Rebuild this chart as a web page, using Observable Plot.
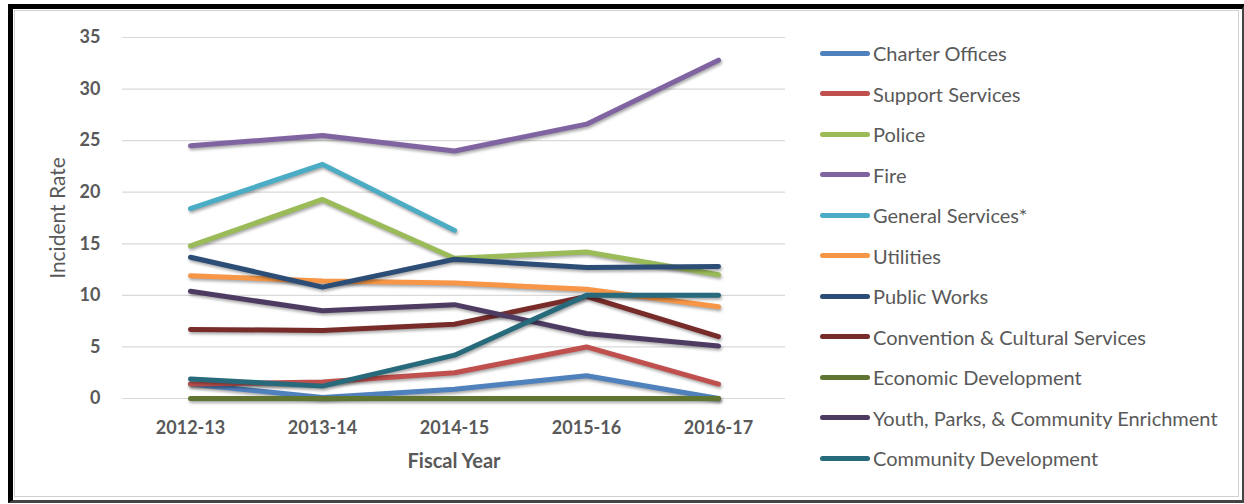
<!DOCTYPE html>
<html>
<head>
<meta charset="utf-8">
<script src="https://cdn.jsdelivr.net/npm/d3@7"></script>
<script src="https://cdn.jsdelivr.net/npm/@observablehq/plot@0.6"></script>
<style>
  html, body { margin: 0; padding: 0; background: #fff; }
  body { width: 1244px; height: 504px; position: relative; overflow: hidden; font-family: Lato, "Open Sans", sans-serif; }
  #frame { position: absolute; left: 8px; top: 4px; width: 1229px; height: 491px;
           border-left: 5px solid #000; border-top: 5px solid #000;
           border-right: 3px solid #444; border-bottom: 3px solid #444; box-sizing: content-box; }
  #inner { position: absolute; left: 14px; top: 10px; width: 1225px; height: 487px; border: 1px solid #d0d0d0; box-sizing: border-box; }
  #chart { position: absolute; left: 0; top: 0; }
  #chart g[aria-label="line"] path { filter: drop-shadow(1px 2px 1.5px rgba(0,0,0,0.35)); }
  #legend { position: absolute; left: 820px; top: 0; }
  .row { position: absolute; left: 0; height: 24px; display: flex; align-items: center; white-space: nowrap; }
  .sw { width: 50px; height: 5px; border-radius: 3px; margin-right: 3px; }
  .lab { font-size: 20px; color: #595959; font-family: Lato, "Open Sans", sans-serif; }
</style>
</head>
<body>
<div id="frame"></div>
<div id="inner"></div>
<div id="chart"></div>
<div id="legend"></div>
<script>
const years = ["2012-13", "2013-14", "2014-15", "2015-16", "2016-17"];
const departments = [
  "Charter Offices", "Support Services", "Police", "Fire", "General Services*", "Utilities",
  "Public Works", "Convention & Cultural Services", "Economic Development",
  "Youth, Parks, & Community Enrichment", "Community Development"
];
const colors = ["#4F81BD", "#C0504D", "#9BBB59", "#8064A2", "#4BACC6", "#F79646",
                "#2C4D75", "#772C2A", "#5F7530", "#4D3B62", "#276A7C"];
const charterOffices      = [1.4, 0.1, 0.9, 2.2, 0.0];
const supportServices     = [1.4, 1.6, 2.5, 5.0, 1.4];
const police              = [14.8, 19.3, 13.6, 14.2, 12.0];
const fire                = [24.5, 25.5, 24.0, 26.6, 32.8];
const generalServices     = [18.4, 22.7, 16.3, null, null];
const utilities           = [11.9, 11.4, 11.2, 10.6, 8.9];
const publicWorks         = [13.7, 10.8, 13.5, 12.7, 12.8];
const convention          = [6.7, 6.6, 7.2, 9.9, 6.0];
const economicDevelopment = [0.0, 0.0, 0.0, 0.0, 0.0];
const youthParks          = [10.4, 8.5, 9.1, 6.3, 5.1];
const communityDev        = [1.9, 1.2, 4.2, 10.0, 10.0];
const series = [charterOffices, supportServices, police, fire, generalServices, utilities,
                publicWorks, convention, economicDevelopment, youthParks, communityDev];
const yTicks = [0, 5, 10, 15, 20, 25, 30, 35];
const xTitle = "Fiscal Year";
const yTitle = "Incident Rate";

const data = [];
departments.forEach((d, i) => {
  series[i].forEach((v, j) => data.push({dept: d, year: years[j], value: v}));
});

const chart = Plot.plot({
  width: 800,
  height: 470,
  marginLeft: 122,
  marginRight: 15,
  marginTop: 37,
  marginBottom: 72,
  style: {fontFamily: "Lato, 'Open Sans', sans-serif", color: "#595959", background: "transparent", overflow: "visible"},
  x: {type: "point", domain: years, padding: 0.5},
  y: {domain: [0, 35]},
  color: {domain: departments, range: colors},
  marks: [
    Plot.gridY(yTicks, {stroke: "#d9d9d9", strokeOpacity: 1, strokeWidth: 1.2}),
    Plot.axisY(yTicks, {tickSize: 0, tickPadding: 22, fontSize: 18, fontWeight: "bold", fill: "#595959", label: null}),
    Plot.axisX({tickSize: 0, tickPadding: 23, fontSize: 18, fontWeight: "bold", fill: "#595959", label: null}),
    Plot.text([yTitle], {frameAnchor: "left", textAnchor: "middle", text: d => d, rotate: -90, dx: -64, fontSize: 21, fill: "#595959"}),
    Plot.text([xTitle], {frameAnchor: "bottom", textAnchor: "middle", text: d => d, dy: 69, fontSize: 20, fontWeight: "bold", fill: "#595959"}),
    ...departments.map((d, i) => Plot.line(data.filter(r => r.dept === d), {
      x: "year", y: "value", stroke: colors[i], strokeWidth: 5,
      strokeLinecap: "round", strokeLinejoin: "round"
    }))
  ]
});
document.getElementById("chart").appendChild(chart);

const legend = document.getElementById("legend");
departments.forEach((d, i) => {
  const row = document.createElement("div");
  row.className = "row";
  row.style.top = (53 + 40.5 * i - 12) + "px";
  const sw = document.createElement("div");
  sw.className = "sw";
  sw.style.background = colors[i];
  const lab = document.createElement("span");
  lab.className = "lab";
  lab.textContent = d;
  row.appendChild(sw);
  row.appendChild(lab);
  legend.appendChild(row);
});
</script>
</body>
</html>
